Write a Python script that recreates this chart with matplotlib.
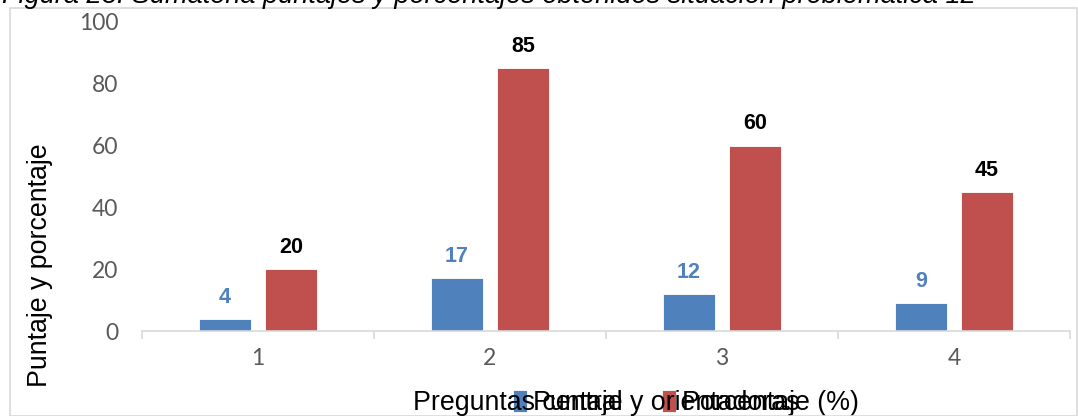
import numpy as np
import matplotlib.pyplot as plt
from matplotlib.patches import Rectangle

# data
categories = ['1', '2', '3', '4']
puntaje = [4, 17, 12, 9]
porcentaje = [20, 85, 60, 45]
y_ticks = [0, 20, 40, 60, 80, 100]

blue = '#4F81BD'
red = '#C0504D'
grey_text = '#595959'

W, H = 1078, 416
fig = plt.figure(figsize=(W / 100, H / 100), dpi=100)

# outer frame of the chart object
fig.patches.append(Rectangle((10 / W, 0), 1 - 10 / W - 1 / W, 1 - 8 / H,
                             transform=fig.transFigure, fill=False,
                             edgecolor='#D9D9D9', linewidth=1.2))

# title partly cut at the top
fig.text(2 / W, 1 - 3 / H, 'Figura 23. Sumatoria puntajes y porcentajes obtenidos situación problemática 12',
         family='Liberation Sans', style='italic', fontsize=19.5, va='baseline', ha='left')

ax = fig.add_axes([142 / W, 85 / H, (1070 - 142) / W, (331 - 22) / H])

x = np.arange(1, len(categories) + 1)
w = 0.224
off = 0.142
ax.bar(x - off, puntaje, w, color=blue, edgecolor='white', linewidth=0.6, label='Puntaje')
ax.bar(x + off, porcentaje, w, color=red, edgecolor='white', linewidth=0.6, label='Porcentaje (%)')

for xi, v in zip(x - off, puntaje):
    ax.annotate(str(v), (xi, v), xytext=(0, 8), textcoords='offset points',
                ha='center', va='bottom', fontsize=15.5, fontweight='bold',
                color=blue, family='Liberation Sans')
for xi, v in zip(x + off, porcentaje):
    ax.annotate(str(v), (xi, v), xytext=(0, 8), textcoords='offset points',
                ha='center', va='bottom', fontsize=15.5, fontweight='bold',
                color='black', family='Liberation Sans')

ax.set_xlim(0.5, len(categories) + 0.5)
ax.set_ylim(0, 100)
ax.set_yticks(y_ticks)
ax.set_xticks(x)
ax.set_xticklabels(categories)
ax.set_xticks(np.arange(0.5, len(categories) + 1, 1), minor=True)

for s in ['top', 'right', 'left']:
    ax.spines[s].set_visible(False)
ax.spines['bottom'].set_color('#D9D9D9')
ax.spines['bottom'].set_linewidth(1.2)

ax.tick_params(axis='x', which='major', length=0, pad=12, labelsize=16.5,
               labelcolor=grey_text, labelfontfamily='Lato')
ax.tick_params(axis='x', which='minor', length=6, width=1.2, color='#D9D9D9')
ax.tick_params(axis='y', length=0, pad=17, labelsize=16.5,
               labelcolor=grey_text, labelfontfamily='Lato')

# y label, x label and legend overlap at the bottom like in the original
fig.text(40 / W, 1 - 265 / H, 'Puntaje y porcentaje', family='Liberation Sans',
         fontsize=19.3, rotation=90, ha='center', va='center')
fig.text(606 / W, 1 - 410 / H, 'Preguntas central y orientadoras', family='Liberation Sans',
         fontsize=19.3, ha='center', va='baseline')

ax.legend(loc='center left', bbox_to_anchor=(513 / W, 1 - 403 / H),
          bbox_transform=fig.transFigure, ncol=2, frameon=False,
          prop={'family': 'Liberation Sans', 'size': 19.3},
          handlelength=0.52, handleheight=0.87, handletextpad=0.22,
          columnspacing=1.45, borderpad=0, borderaxespad=0)

fig.savefig('out.png', dpi=100)
